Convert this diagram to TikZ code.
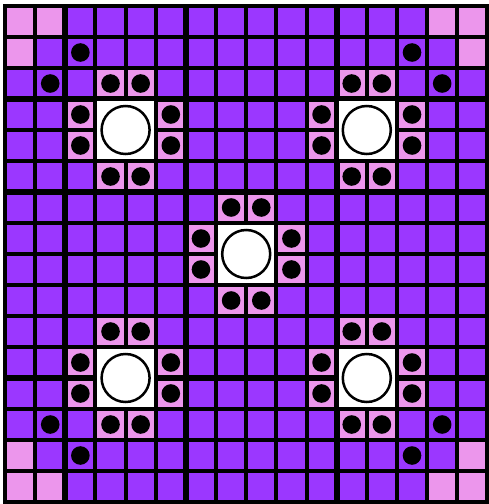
\documentclass[tikz,border=0pt]{standalone}
\definecolor{gridpurple}{RGB}{155,55,255}
\definecolor{gridpink}{RGB}{236,150,236}
\newcommand{\gridcell}[3]{\fill[#3] ({5+(#2)*30.15+2},{6+(#1)*31+2}) rectangle ({5+(#2+1)*30.15-2},{6+(#1+1)*31-2});}
\newcommand{\gridpeg}[2]{\fill[black] ({5+(#2+0.5)*30.15},{6+(#1+0.5)*31}) circle (9.3);}
\begin{document}
\begin{tikzpicture}[x=1pt,y=-1pt]
\useasboundingbox (0,0) rectangle (489,504);
\fill[black] (3,4) rectangle (489,504);

\foreach \r in {0,...,15}
  \foreach \c in {0,...,15}
    {\gridcell{\r}{\c}{gridpurple}}

\foreach \r/\c in {0/0,0/1,1/0,0/14,0/15,1/15,14/0,15/0,15/1,14/15,15/14,15/15}
  {\gridcell{\r}{\c}{gridpink}}

\foreach \R/\C in {3/3,3/11,7/7,11/3,11/11}
  \foreach \dr/\dc in {-1/0,-1/1,0/-1,1/-1,0/2,1/2,2/0,2/1}
    {\gridcell{\R+\dr}{\C+\dc}{gridpink}}

\foreach \k in {2,6,11}
  \draw[line width=6] ({5+\k*30.15},4) -- ({5+\k*30.15},504);
\foreach \k in {3,6,12}
  \draw[line width=6] (3,{6+\k*31}) -- (489,{6+\k*31});

\foreach \R/\C in {3/3,3/11,7/7,11/3,11/11} {
  \fill[white] ({5+\C*30.15+2},{6+\R*31+2}) rectangle ({5+(\C+2)*30.15-2},{6+(\R+2)*31-2});
  \draw[line width=2.5] ({5+(\C+1)*30.15},{6+(\R+1)*31}) circle (24);
  \foreach \dr/\dc in {-1/0,-1/1,0/-1,1/-1,0/2,1/2,2/0,2/1}
    {\gridpeg{\R+\dr}{\C+\dc}}
}

\foreach \r/\c in {1/2,2/1,1/13,2/14,13/1,14/2,13/14,14/13}
  {\gridpeg{\r}{\c}}
\end{tikzpicture}
\end{document}
